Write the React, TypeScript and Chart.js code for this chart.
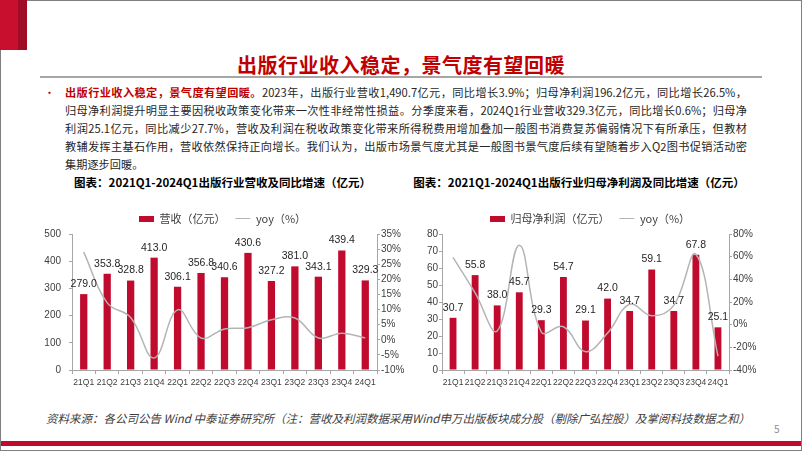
import React, { useEffect, useRef } from 'react';
import { Chart, registerables } from 'chart.js';

Chart.register(...registerables);

const quarters = ['21Q1', '21Q2', '21Q3', '21Q4', '22Q1', '22Q2', '22Q3', '22Q4', '23Q1', '23Q2', '23Q3', '23Q4', '24Q1'];
const revenue = [279.0, 353.8, 328.8, 413.0, 306.1, 356.8, 340.6, 430.6, 327.2, 381.0, 343.1, 439.4, 329.3];
const revenueYoy = [29.0, 12.2, 7.4, -6.0, 9.9, 0.6, 3.6, 4.0, 6.6, 7.2, 0.6, 2.2, 0.6];
const profit = [30.7, 55.8, 38.0, 45.7, 29.3, 54.7, 29.1, 42.0, 34.7, 59.1, 34.7, 67.8, 25.1];
const profitYoy = [59.4, 28.0, -5.5, 70.0, -6.5, -1.8, -23.8, -7.4, 18.0, 7.9, 17.0, 62.0, -27.7];

const revenueLabel = '营收（亿元）';
const profitLabel = '归母净利润（亿元）';
const yoyLabel = 'yoy（%）';

const RED = '#C00A2E';
const TITLE_RED = '#C00000';
const AXIS = '#A6A6A6';
const TICK = '#404040';
const LINE = '#B4B4B4';
const CJK = '"Noto Sans CJK SC", "Noto Sans", sans-serif';
const SANS = '"Liberation Sans", Arial, sans-serif';

const barLabelPlugin = {
  id: 'barLabels',
  afterDatasetsDraw(chart: any) {
    const ctx = chart.ctx;
    const idx = chart.data.datasets.findIndex((d: any) => d.type === 'bar');
    const meta = chart.getDatasetMeta(idx);
    const data = chart.data.datasets[idx].data;
    ctx.save();
    ctx.font = '10.5px ' + SANS;
    ctx.fillStyle = '#262626';
    ctx.textAlign = 'center';
    ctx.textBaseline = 'middle';
    meta.data.forEach((el: any, i: number) => {
      ctx.fillText(Number(data[i]).toFixed(1), el.x, el.y - 10);
    });
    ctx.restore();
  },
};

function makeSwatch() {
  const c = document.createElement('canvas');
  c.width = 15;
  c.height = 6;
  const g = c.getContext('2d');
  if (g) {
    g.fillStyle = RED;
    g.fillRect(0, 0, 15, 6);
  }
  return c;
}

type Cfg = {
  barLabel: string;
  bars: number[];
  yoy: number[];
  yMax: number;
  yStep: number;
  y1Min: number;
  y1Max: number;
  y1Step: number;
  leftW: number;
  rightW: number;
  leftPad: number;
};

function ChartCanvas({ cfg, width }: { cfg: Cfg; width: number }) {
  const ref = useRef<HTMLCanvasElement | null>(null);
  useEffect(() => {
    if (!ref.current) return;
    const swatch = makeSwatch();
    const chart = new Chart(ref.current, {
      type: 'bar',
      data: {
        labels: quarters,
        datasets: [
          {
            type: 'line',
            label: yoyLabel,
            data: cfg.yoy,
            yAxisID: 'y1',
            borderColor: LINE,
            backgroundColor: LINE,
            borderWidth: 1.5,
            pointRadius: 0,
            tension: 0.4,
            order: 0,
          },
          {
            type: 'bar',
            label: cfg.barLabel,
            data: cfg.bars,
            yAxisID: 'y',
            backgroundColor: RED,
            barPercentage: 0.62,
            categoryPercentage: 0.5,
            order: 1,
          },
        ],
      },
      options: {
        animation: false,
        responsive: false,
        maintainAspectRatio: false,
        layout: { padding: { top: 8, left: 0, right: 0, bottom: 0 } },
        plugins: {
          tooltip: { enabled: false },
          legend: {
            display: true,
            position: 'top',
            labels: {
              usePointStyle: true,
              pointStyleWidth: 15,
              boxHeight: 6,
              padding: 10,
              color: TICK,
              font: { size: 11, family: CJK },
              generateLabels: () => [
                { text: cfg.barLabel, pointStyle: swatch, fillStyle: RED, strokeStyle: RED, lineWidth: 0, hidden: false, datasetIndex: 1, fontColor: TICK },
                { text: yoyLabel, pointStyle: 'line', fillStyle: LINE, strokeStyle: LINE, lineWidth: 1, hidden: false, datasetIndex: 0, fontColor: TICK },
              ],
            },
          },
        },
        scales: {
          x: {
            offset: true,
            grid: { display: true, drawOnChartArea: false, drawTicks: true, tickLength: 4, color: AXIS, offset: true },
            border: { display: true, color: AXIS },
            ticks: { font: { size: 8.5, family: SANS }, color: TICK, padding: 4, maxRotation: 0, autoSkip: false },
            afterFit: (s: any) => { s.height = 25; },
          },
          y: {
            position: 'left',
            min: 0,
            max: cfg.yMax,
            ticks: { stepSize: cfg.yStep, font: { size: 10, family: SANS }, color: TICK, padding: cfg.leftPad },
            grid: { display: true, drawOnChartArea: false, tickLength: 3, color: AXIS },
            border: { display: true, color: AXIS },
            afterFit: (s: any) => { s.width = cfg.leftW; },
          },
          y1: {
            position: 'right',
            min: cfg.y1Min,
            max: cfg.y1Max,
            ticks: { stepSize: cfg.y1Step, font: { size: 10, family: SANS }, color: TICK, padding: 1, callback: (v: any) => v + '%' },
            grid: { display: true, drawOnChartArea: false, tickLength: 3, color: AXIS },
            border: { display: true, color: AXIS },
            afterFit: (s: any) => { s.width = cfg.rightW; },
          },
        },
      },
      plugins: [barLabelPlugin],
    } as any);
    return () => chart.destroy();
  }, [cfg]);
  return <canvas ref={ref} width={width} height={200} style={{ display: 'block' }} />;
}

const leftCfg: Cfg = {
  barLabel: revenueLabel, bars: revenue, yoy: revenueYoy, yMax: 500, yStep: 100,
  y1Min: -10, y1Max: 35, y1Step: 5, leftW: 42, rightW: 38, leftPad: 8,
};
const rightCfg: Cfg = {
  barLabel: profitLabel, bars: profit, yoy: profitYoy, yMax: 80, yStep: 10,
  y1Min: -40, y1Max: 80, y1Step: 20, leftW: 32, rightW: 41, leftPad: 1,
};

const bodyLines = [
  '2023年，出版行业营收1,490.7亿元，同比增长3.9%；归母净利润196.2亿元，同比增长26.5%，',
  '归母净利润提升明显主要因税收政策变化带来一次性非经常性损益。分季度来看，2024Q1行业营收329.3亿元，同比增长0.6%；归母净',
  '利润25.1亿元，同比减少27.7%，营收及利润在税收政策变化带来所得税费用增加叠加一般图书消费复苏偏弱情况下有所承压，但教材',
  '教辅发挥主基石作用，营收依然保持正向增长。我们认为，出版市场景气度尤其是一般图书景气度后续有望随着步入Q2图书促销活动密',
  '集期逐步回暖。',
];
const bodyLead = '出版行业收入稳定，景气度有望回暖。';

export default function App() {
  const lineStyle = (i: number): React.CSSProperties => ({
    height: 18,
    lineHeight: '18px',
    whiteSpace: 'nowrap',
    textAlign: i < 4 ? 'justify' : 'left',
    textAlignLast: i < 4 ? 'justify' : 'left',
  } as any);
  return (
    <div style={{ position: 'absolute', left: 0, top: 0, width: 802, height: 451, background: '#fff', overflow: 'hidden', fontFamily: CJK }}>
      <div style={{ position: 'absolute', left: 0, top: 0, width: 802, height: 451, boxSizing: 'border-box', border: '1px solid #7F7F7F' }} />
      <div style={{ position: 'absolute', left: 0, top: 0, width: 18, height: 50, background: '#C8102E' }} />
      <div style={{ position: 'absolute', left: 18, top: 0, width: 9, height: 50, background: '#A00C26' }} />
      <div style={{ position: 'absolute', left: 0, top: 55, width: 802, textAlign: 'center', fontSize: 20, lineHeight: '20px', fontWeight: 700, color: TITLE_RED, letterSpacing: 0.5 }}>
        出版行业收入稳定，景气度有望回暖
      </div>
      <div style={{ position: 'absolute', left: 40, top: 76, width: 722, height: 2, background: '#A6A6A6' }} />
      <div style={{ position: 'absolute', left: 44, top: 83, fontSize: 11, lineHeight: '18px', color: TITLE_RED }}>•</div>
      <div style={{ position: 'absolute', left: 65, top: 83, width: 682, fontSize: 11.2, color: '#262626' }}>
        {bodyLines.map((t, i) => (
          <div key={i} style={lineStyle(i)}>
            {i === 0 ? <span style={{ color: TITLE_RED, fontWeight: 700 }}>{bodyLead}</span> : null}
            {t}
          </div>
        ))}
      </div>
      <div style={{ position: 'absolute', left: 30, top: 173, width: 385, textAlign: 'center', fontSize: 11.5, lineHeight: '18px', fontWeight: 700, color: '#000' }}>
        图表：2021Q1-2024Q1出版行业营收及同比增速（亿元）
      </div>
      <div style={{ position: 'absolute', left: 410, top: 173, width: 338, textAlign: 'center', fontSize: 11.5, lineHeight: '18px', fontWeight: 700, color: '#000' }}>
        图表：2021Q1-2024Q1出版行业归母净利润及同比增速（亿元）
      </div>
      <div style={{ position: 'absolute', left: 30, top: 195, width: 385, height: 200 }}>
        <ChartCanvas cfg={leftCfg} width={385} />
      </div>
      <div style={{ position: 'absolute', left: 410, top: 195, width: 360, height: 200 }}>
        <ChartCanvas cfg={rightCfg} width={360} />
      </div>
      <div style={{ position: 'absolute', left: 46, top: 409, width: 710, fontSize: 11.5, lineHeight: '18px', fontStyle: 'italic', color: '#404040', whiteSpace: 'nowrap' }}>
        资料来源：各公司公告 Wind 中泰证券研究所（注：营收及利润数据采用Wind申万出版板块成分股（剔除广弘控股）及掌阅科技数据之和）
      </div>
      <div style={{ position: 'absolute', left: 774, top: 421, fontSize: 10, lineHeight: '16px', color: '#8C8C8C' }}>5</div>
      <div style={{ position: 'absolute', left: 1, top: 441, width: 800, height: 5, background: RED }} />
    </div>
  );
}
